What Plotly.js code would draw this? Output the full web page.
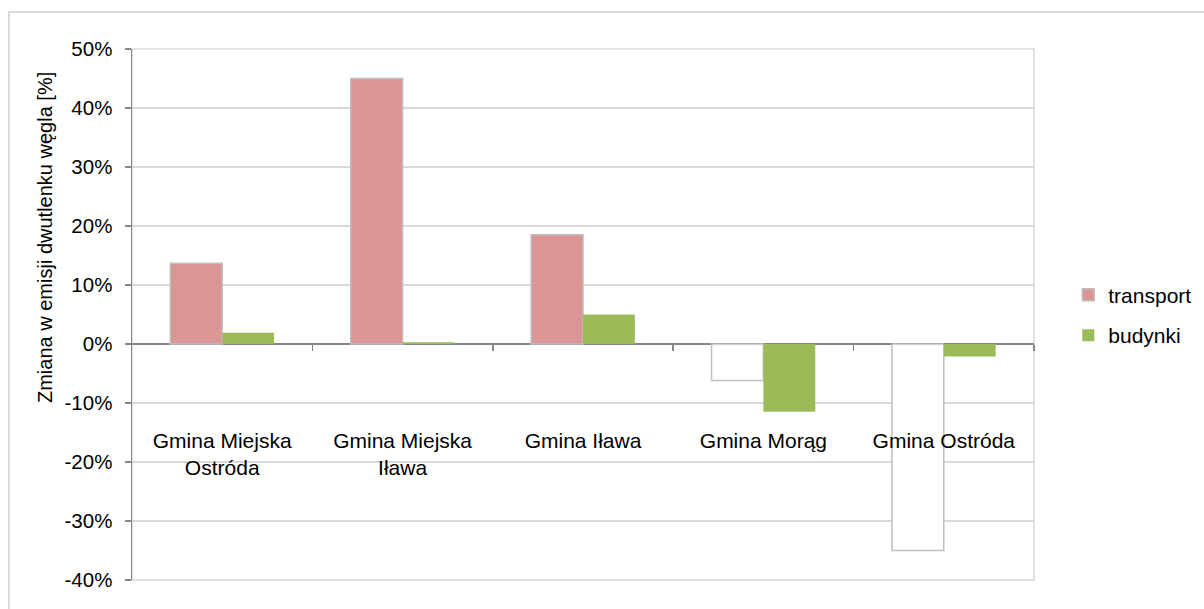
<!DOCTYPE html>
<html>
<head>
<meta charset="utf-8">
<script src="https://cdn.plot.ly/plotly-3.0.1.min.js"></script>
<style>html,body{margin:0;padding:0;background:#fff;}#chart{width:1204px;height:609px;}</style>
</head>
<body>
<div id="chart"></div>
<script>
const categories = ["Gmina Miejska<br>Ostróda", "Gmina Miejska<br>Iława", "Gmina Iława", "Gmina Morąg", "Gmina Ostróda"];
const transport = [0.137, 0.450, 0.185, -0.062, -0.350];
const budynki = [0.019, 0.003, 0.050, -0.115, -0.021];
const seriesNames = ["transport", "budynki"];
const yTickVals = [-0.4, -0.3, -0.2, -0.1, 0, 0.1, 0.2, 0.3, 0.4, 0.5];
const yTickLabels = ["-40%", "-30%", "-20%", "-10%", "0%", "10%", "20%", "30%", "40%", "50%"];
const yTitle = "Zmiana w emisji dwutlenku węgla [%]";

const FONT = "Liberation Sans, Arial, sans-serif";
const PINK = "#D99694";
const GREEN = "#9BBB59";
const idx = categories.map((_, i) => i);

const traces = [
  {
    type: "bar", name: seriesNames[0], x: idx, y: transport,
    legendgroup: "a",
    marker: { color: transport.map(v => v < 0 ? "#FFFFFF" : PINK), line: { color: "#BFBFBF", width: 1.5 } },
    hoverinfo: "skip"
  },
  {
    type: "bar", name: seriesNames[1], x: idx, y: budynki,
    legendgroup: "b",
    marker: { color: GREEN, line: { color: GREEN, width: 0 } },
    hoverinfo: "skip"
  },
  { type: "scatter", x: [-0.5, 4.5], y: [0, 0], xaxis: "x2", mode: "none", showlegend: false, hoverinfo: "skip" }
];

const layout = {
  width: 1204, height: 609,
  margin: { l: 132, r: 170, t: 49, b: 29, autoexpand: false },
  paper_bgcolor: "#FFFFFF", plot_bgcolor: "#FFFFFF",
  font: { family: FONT, size: 21, color: "#000000" },
  barmode: "group", bargap: 0.425, bargroupgap: 0,
  showlegend: true,
  legend: {
    x: 1.038, y: 0.575, xanchor: "left", yanchor: "top",
    font: { family: FONT, size: 21, color: "#000" },
    traceorder: "grouped", tracegroupgap: 10,
    itemwidth: 30, bgcolor: "rgba(0,0,0,0)"
  },
  xaxis: {
    range: [-0.5, 4.5], anchor: "free", position: 0.29,
    tickvals: idx, ticktext: categories,
    showline: false, showgrid: false, zeroline: false, ticks: "",
    tickfont: { family: FONT, size: 21, color: "#000" }
  },
  xaxis2: {
    range: [-0.5, 4.5], overlaying: "x", anchor: "free", position: 0.4444,
    tickvals: [0.5, 1.5, 2.5, 3.5, 4.5], showticklabels: false,
    ticks: "outside", ticklen: 6, tickwidth: 1.5, tickcolor: "#868686",
    showline: false, showgrid: false, zeroline: false
  },
  yaxis: {
    range: [-0.4, 0.5], tickvals: yTickVals, ticktext: yTickLabels,
    showgrid: true, gridcolor: "#D9D9D9", gridwidth: 1.5,
    zeroline: true, zerolinecolor: "#868686", zerolinewidth: 1.5,
    showline: true, linecolor: "#868686", linewidth: 1.5,
    ticks: "outside", ticklen: 6, tickwidth: 1.5, tickcolor: "#868686",
    ticklabelstandoff: 8,
    tickfont: { family: FONT, size: 20.5, color: "#000" }
  },
  annotations: [
    {
      text: yTitle, textangle: -90, xref: "paper", yref: "paper",
      x: -0.097, y: 0.645, xanchor: "center", yanchor: "middle",
      showarrow: false, font: { family: FONT, size: 20, color: "#000" }
    }
  ],
  shapes: [
    { type: "rect", xref: "paper", yref: "paper", x0: 0, x1: 1, y0: 0, y1: 1,
      line: { color: "#D9D9D9", width: 1.5 }, layer: "below" },
    { type: "rect", xref: "paper", yref: "paper", x0: -0.1364, x1: 1.25, y0: -0.1, y1: 1.0697,
      line: { color: "#D9D9D9", width: 2 }, layer: "below" }
  ]
};

Plotly.newPlot("chart", traces, layout, { displayModeBar: false, staticPlot: true });
</script>
</body>
</html>
